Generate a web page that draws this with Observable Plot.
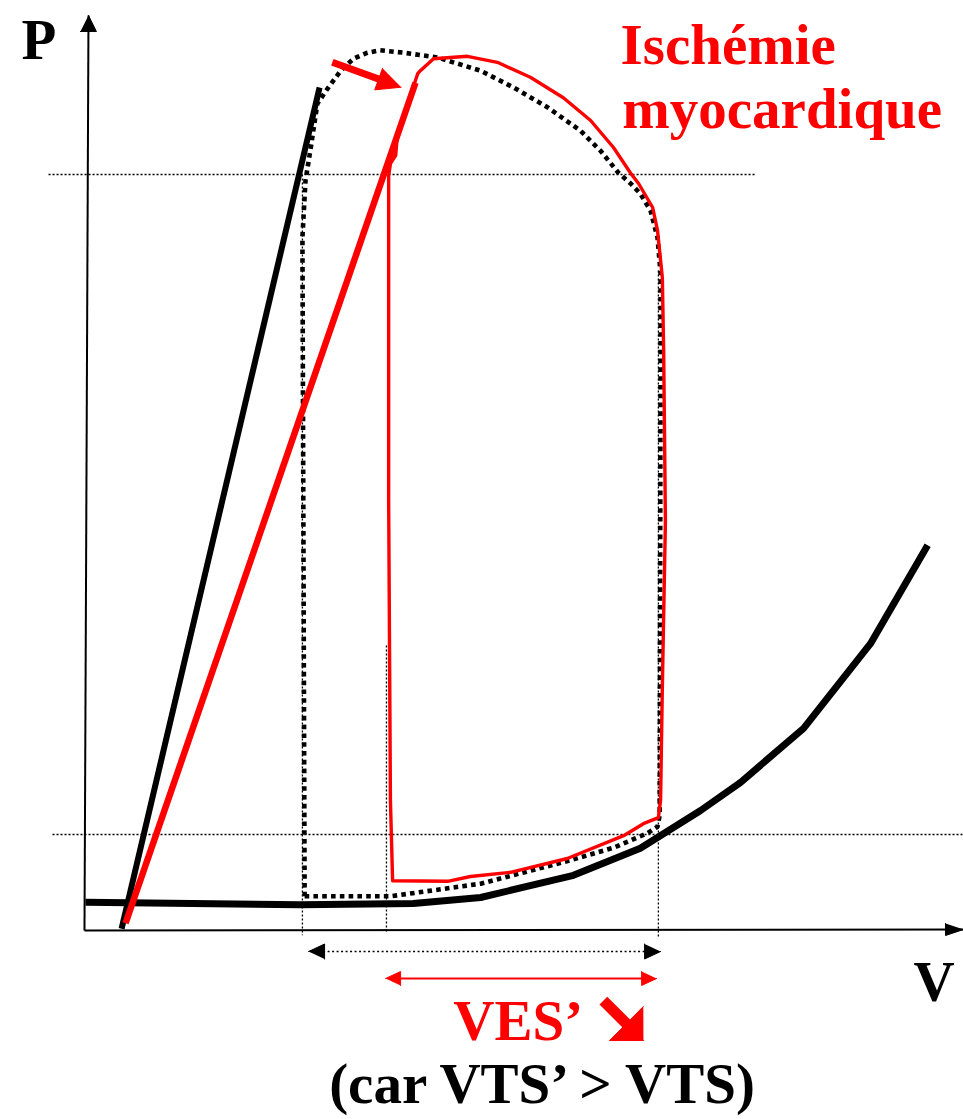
<!DOCTYPE html>
<html><head><meta charset="utf-8">
<script src="https://cdn.jsdelivr.net/npm/d3@7"></script>
<script src="https://cdn.jsdelivr.net/npm/@observablehq/plot@0.6"></script>
<style>body{margin:0;background:#fff}svg{display:block}</style>
</head><body><div id="chart"></div>
<script>
// ---- Data (V in mL, P in mmHg) ----
const espvrNormal = [{V: 8.2, P: 0.3}, {V: 53.2, P: 140.5}];
const espvrIschemia = [{V: 9.1, P: 1.2}, {V: 75.0, P: 141.3}];
const edpvr = [
  {V: 0, P: 4.7}, {V: 48.9, P: 4.3}, {V: 74.5, P: 4.5}, {V: 89.8, P: 5.5},
  {V: 110.9, P: 9.2}, {V: 126.1, P: 13.7}, {V: 139.8, P: 20.0}, {V: 148.9, P: 24.7},
  {V: 163.2, P: 33.7}, {V: 178.4, P: 47.8}, {V: 191.4, P: 64.2}
];
const loopNormal = [
  {V: 49.8, P: 5.7}, {V: 69.3, P: 5.7}, {V: 89.8, P: 7.8}, {V: 110.2, P: 11.7},
  {V: 120.0, P: 13.8}, {V: 127.7, P: 16.2}, {V: 130.0, P: 17.3}, {V: 130.5, P: 19.2},
  {V: 130.7, P: 96.7}, {V: 130.7, P: 109.5}, {V: 130.0, P: 115.5}, {V: 128.4, P: 120.0},
  {V: 126.1, P: 122.8}, {V: 123.9, P: 124.5}, {V: 121.1, P: 126.3}, {V: 117.0, P: 130.0},
  {V: 112.5, P: 133.3}, {V: 105.0, P: 137.2}, {V: 97.3, P: 140.5}, {V: 89.8, P: 143.3},
  {V: 80.0, P: 145.5}, {V: 72.3, P: 146.3}, {V: 67.0, P: 146.7}, {V: 64.1, P: 146.3},
  {V: 60.9, P: 145.3}, {V: 58.0, P: 143.3}, {V: 55.0, P: 140.3}, {V: 52.7, P: 137.8},
  {V: 51.1, P: 130.0}, {V: 50.0, P: 125.0}, {V: 49.3, P: 115.5}, {V: 49.5, P: 71.7},
  {V: 49.8, P: 5.7}
];
const loopIschemia = [
  {V: 69.8, P: 8.3}, {V: 82.3, P: 8.2}, {V: 87.5, P: 9.0}, {V: 96.6, P: 9.7},
  {V: 109.5, P: 12.0}, {V: 122.3, P: 15.8}, {V: 126.8, P: 17.8}, {V: 130.2, P: 18.8},
  {V: 130.7, P: 21.7}, {V: 131.1, P: 40.5}, {V: 131.8, P: 68.3}, {V: 131.4, P: 96.7},
  {V: 131.1, P: 108.8}, {V: 130.0, P: 116.7}, {V: 128.9, P: 120.5}, {V: 125.7, P: 124.5},
  {V: 123.9, P: 126.2}, {V: 120.0, P: 130.5}, {V: 114.8, P: 135.0}, {V: 108.6, P: 138.8},
  {V: 101.1, P: 142.2}, {V: 93.6, P: 144.7}, {V: 86.8, P: 145.7}, {V: 79.1, P: 145.3},
  {V: 76.1, P: 143.3}, {V: 75.5, P: 142.8}, {V: 70.9, P: 132.8}, {V: 70.5, P: 129.2},
  {V: 69.3, P: 127.8}, {V: 68.9, P: 125.8}, {V: 68.9, P: 71.7}, {V: 69.3, P: 21.7},
  {V: 69.8, P: 8.3}
];
const refHorizontal = [{P: 126, V1: -8.4, V2: 152.3}, {P: 16, V1: -7.5, V2: 199.5}];
const refVertical = [{V: 49.3, P1: 126, P2: -0.8}, {V: 68.4, P1: 47.5, P2: -0.3}, {V: 130.2, P1: 110, P2: -1.2}];
const axisLines = [
  {name: "P", v1: -0.23, p1: 0, v2: 0.68, p2: 152.5},
  {name: "V", v1: -0.23, p1: 0, v2: 199.55, p2: 0.17}
];
const volumeSpans = [
  {name: "VES", v1: 50.7, v2: 130.7, p: -3.5},
  {name: "VES'", v1: 68.2, v2: 129.8, p: -8}
];
const shiftArrow = {v1: 56.1, p1: 144.7, v2: 71.75, p2: 140.55};
const decreaseArrow = {v1: 117.7, p1: -11.7, v2: 126.8, p2: -18.33};
const labels = [
  {text: "P", V: -14.55, P: 145.17, color: "black", anchor: "start"},
  {text: "V", V: 188.2, P: -11.67, color: "black", anchor: "start"},
  {text: "Ischémie", V: 121.6, P: 144.5, color: "red", anchor: "start"},
  {text: "myocardique", V: 122.0, P: 133.67, color: "red", anchor: "start"},
  {text: "VES’", V: 83.6, P: -18.33, color: "red", anchor: "start"},
  {text: "(car VTS’ > VTS)", V: 103.75, P: -28.67, color: "black", anchor: "middle"}
];

// ---- Scales ----
const X_DOMAIN = [0, 200], X_RANGE = [85, 965];
const Y_DOMAIN = [0, 152], Y_RANGE = [930, 18];
const sx = d3.scaleLinear(X_DOMAIN, X_RANGE), sy = d3.scaleLinear(Y_DOMAIN, Y_RANGE);

// arrowhead polygon (size in px) converted to data units
function head(id, tip, from, len, halfW) {
  const tx = sx(tip[0]), ty = sy(tip[1]), fx = sx(from[0]), fy = sy(from[1]);
  const dx = tx - fx, dy = ty - fy, d = Math.hypot(dx, dy), ux = dx / d, uy = dy / d;
  const bx = tx - ux * len, by = ty - uy * len, nx = -uy, ny = ux;
  return [[tx, ty], [bx + nx * halfW, by + ny * halfW], [bx - nx * halfW, by - ny * halfW]]
    .map(([px, py]) => ({id, V: sx.invert(px), P: sy.invert(py)}));
}
function base(tip, from, len) {
  const tx = sx(tip[0]), ty = sy(tip[1]), fx = sx(from[0]), fy = sy(from[1]);
  const dx = tx - fx, dy = ty - fy, d = Math.hypot(dx, dy);
  return {V: sx.invert(tx - dx / d * len), P: sy.invert(ty - dy / d * len)};
}

const blackHeads = [
  ...head("axP", [axisLines[0].v2, axisLines[0].p2], [axisLines[0].v1, axisLines[0].p1], 16, 8),
  ...head("axV", [axisLines[1].v2, axisLines[1].p2], [axisLines[1].v1, axisLines[1].p1], 18, 6),
  ...head("s0a", [volumeSpans[0].v1, volumeSpans[0].p], [volumeSpans[0].v2, volumeSpans[0].p], 16, 7.5),
  ...head("s0b", [volumeSpans[0].v2, volumeSpans[0].p], [volumeSpans[0].v1, volumeSpans[0].p], 16, 7.5)
];
const redHeads = [
  ...head("s1a", [volumeSpans[1].v1, volumeSpans[1].p], [volumeSpans[1].v2, volumeSpans[1].p], 15, 7),
  ...head("s1b", [volumeSpans[1].v2, volumeSpans[1].p], [volumeSpans[1].v1, volumeSpans[1].p], 15, 7),
  ...head("sh", [shiftArrow.v2, shiftArrow.p2], [shiftArrow.v1, shiftArrow.p1], 24, 11.5),
  ...head("dec", [decreaseArrow.v2, decreaseArrow.p2], [decreaseArrow.v1, decreaseArrow.p1], 24, 24)
];
const spanShafts = volumeSpans.map(s => {
  const a = base([s.v1, s.p], [s.v2, s.p], 10), b = base([s.v2, s.p], [s.v1, s.p], 10);
  return {name: s.name, v1: a.V, p1: a.P, v2: b.V, p2: b.P};
});
const shBase = base([shiftArrow.v2, shiftArrow.p2], [shiftArrow.v1, shiftArrow.p1], 20);
const decBase = base([decreaseArrow.v2, decreaseArrow.p2], [decreaseArrow.v1, decreaseArrow.p1], 18);
const redShafts = [
  {v1: shiftArrow.v1, p1: shiftArrow.p1, v2: shBase.V, p2: shBase.P, w: 7},
  {v1: decreaseArrow.v1, p1: decreaseArrow.p1, v2: decBase.V, p2: decBase.P, w: 11}
];

const font = "'Liberation Serif', 'Times New Roman', serif";
const RED = "#ff0000";

const chart = Plot.plot({
  width: 963,
  height: 1119,
  x: {domain: X_DOMAIN, range: X_RANGE, axis: null},
  y: {domain: Y_DOMAIN, range: Y_RANGE, axis: null},
  style: {background: "#fff", overflow: "visible"},
  marks: [
    // reference dotted lines
    Plot.link(refHorizontal, {x1: "V1", x2: "V2", y1: "P", y2: "P", stroke: "black", strokeWidth: 1.3, strokeDasharray: "2,2"}),
    Plot.link(refVertical, {x1: "V", x2: "V", y1: "P1", y2: "P2", stroke: "black", strokeWidth: 1.3, strokeDasharray: "2,2"}),
    // axes
    Plot.link(axisLines, {x1: "v1", y1: "p1", x2: "v2", y2: "p2", stroke: "black", strokeWidth: 2, strokeLinecap: "butt"}),
    // volume spans
    Plot.link(spanShafts.filter(d => d.name === "VES"), {x1: "v1", y1: "p1", x2: "v2", y2: "p2", stroke: "black", strokeWidth: 1.5, strokeDasharray: "2,2.5"}),
    Plot.link(spanShafts.filter(d => d.name === "VES'"), {x1: "v1", y1: "p1", x2: "v2", y2: "p2", stroke: RED, strokeWidth: 2}),
    // EDPVR
    Plot.line(edpvr, {x: "V", y: "P", stroke: "black", strokeWidth: 7, strokeLinecap: "butt", strokeLinejoin: "round"}),
    // ESPVR normal
    Plot.line(espvrNormal, {x: "V", y: "P", stroke: "black", strokeWidth: 6, strokeLinecap: "butt"}),
    // normal loop (dotted)
    Plot.line(loopNormal, {x: "V", y: "P", stroke: "black", strokeWidth: 4.6, strokeDasharray: "4.6,4.2", strokeLinecap: "butt", strokeLinejoin: "miter"}),
    // ESPVR ischemia
    Plot.line(espvrIschemia, {x: "V", y: "P", stroke: RED, strokeWidth: 6.5, strokeLinecap: "butt"}),
    // ischemic loop
    Plot.line(loopIschemia, {x: "V", y: "P", stroke: RED, strokeWidth: 3.4, strokeLinejoin: "round"}),
    // red arrows
    Plot.link(redShafts, {x1: "v1", y1: "p1", x2: "v2", y2: "p2", stroke: RED, strokeWidth: d => d.w, strokeLinecap: "butt"}),
    Plot.line(redHeads, {x: "V", y: "P", z: "id", fill: RED, stroke: RED, strokeWidth: 1}),
    Plot.line(blackHeads, {x: "V", y: "P", z: "id", fill: "black", stroke: "black", strokeWidth: 1}),
    // labels
    Plot.text(labels.filter(d => d.color === "black" && d.anchor === "start"), {x: "V", y: "P", text: "text", fill: "black", fontSize: 57, fontWeight: "bold", fontFamily: font, textAnchor: "start", lineAnchor: "bottom"}),
    Plot.text(labels.filter(d => d.color === "black" && d.anchor === "middle"), {x: "V", y: "P", text: "text", fill: "black", fontSize: 57, fontWeight: "bold", fontFamily: font, textAnchor: "middle", lineAnchor: "bottom"}),
    Plot.text(labels.filter(d => d.color === "red"), {x: "V", y: "P", text: "text", fill: RED, fontSize: 57, fontWeight: "bold", fontFamily: font, textAnchor: "start", lineAnchor: "bottom"})
  ]
});
document.getElementById("chart").appendChild(chart);
</script></body></html>
